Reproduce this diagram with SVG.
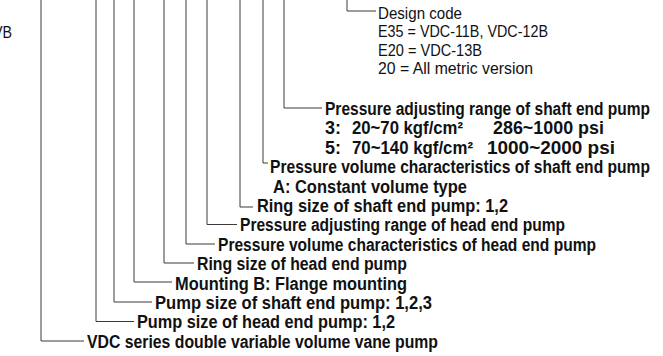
<svg xmlns="http://www.w3.org/2000/svg" width="663" height="356" viewBox="0 0 663 356">
<style>
.c{fill:none;stroke:#3a3a3a;stroke-width:1}
.l{font-family:"Liberation Sans",Arial,sans-serif;font-size:17px;fill:#111}
.b{font-family:"Liberation Sans",Arial,sans-serif;font-size:18px;font-weight:bold;fill:#111}
</style>
<rect width="663" height="356" fill="#fff"/>
<g id="connectors">
<path class="c" d="M347,0V11H376"/>
<path class="c" d="M284,0V108H322"/>
<path class="c" d="M263,0V163H268"/>
<path class="c" d="M240,0V207H253"/>
<path class="c" d="M207,0V224.5H237"/>
<path class="c" d="M186,0V244H215"/>
<path class="c" d="M164,0V263H194"/>
<path class="c" d="M134,0V282H172"/>
<path class="c" d="M114,0V302H152"/>
<path class="c" d="M96,0V321.5H134"/>
<path class="c" d="M41,0V341H84"/>
</g>
<g id="partial"><text class="l" x="-7" y="38" textLength="19" lengthAdjust="spacingAndGlyphs">VB</text></g>
<g id="design-code">
<text class="l" x="378" y="18.5" textLength="84" lengthAdjust="spacingAndGlyphs">Design code</text>
<text class="l" x="378" y="37" textLength="170" lengthAdjust="spacingAndGlyphs">E35 = VDC-11B, VDC-12B</text>
<text class="l" x="378" y="55.5" textLength="104" lengthAdjust="spacingAndGlyphs">E20 = VDC-13B</text>
<text class="l" x="378" y="74" textLength="155" lengthAdjust="spacingAndGlyphs">20 = All metric version</text>
</g>
<g id="pressure-shaft">
<text class="b" x="325" y="115" textLength="325" lengthAdjust="spacingAndGlyphs">Pressure adjusting range of shaft end pump</text>
<text class="b" x="325" y="134.4">3:</text>
<text class="b" x="352" y="134.4" textLength="111" lengthAdjust="spacingAndGlyphs">20~70 kgf/cm²</text>
<text class="b" x="493" y="134.4" textLength="111" lengthAdjust="spacingAndGlyphs">286~1000 psi</text>
<text class="b" x="325" y="153.8">5:</text>
<text class="b" x="352" y="153.8" textLength="121" lengthAdjust="spacingAndGlyphs">70~140 kgf/cm²</text>
<text class="b" x="487" y="153.8" textLength="128" lengthAdjust="spacingAndGlyphs">1000~2000 psi</text>
</g>
<g id="volume-shaft">
<text class="b" x="270" y="173.2" textLength="380" lengthAdjust="spacingAndGlyphs">Pressure volume characteristics of shaft end pump</text>
<text class="b" x="273" y="192.6" textLength="194" lengthAdjust="spacingAndGlyphs">A: Constant volume type</text>
</g>
<g id="ring-shaft"><text class="b" x="257" y="212" textLength="251" lengthAdjust="spacingAndGlyphs">Ring size of shaft end pump: 1,2</text></g>
<g id="pressure-head"><text class="b" x="240" y="231.4" textLength="325" lengthAdjust="spacingAndGlyphs">Pressure adjusting range of head end pump</text></g>
<g id="volume-head"><text class="b" x="218" y="250.8" textLength="378" lengthAdjust="spacingAndGlyphs">Pressure volume characteristics of head end pump</text></g>
<g id="ring-head"><text class="b" x="197" y="270.2" textLength="210" lengthAdjust="spacingAndGlyphs">Ring size of head end pump</text></g>
<g id="mounting"><text class="b" x="175" y="289.6" textLength="232" lengthAdjust="spacingAndGlyphs">Mounting B: Flange mounting</text></g>
<g id="pump-shaft"><text class="b" x="155" y="309" textLength="277" lengthAdjust="spacingAndGlyphs">Pump size of shaft end pump: 1,2,3</text></g>
<g id="pump-head"><text class="b" x="137" y="328.4" textLength="258" lengthAdjust="spacingAndGlyphs">Pump size of head end pump: 1,2</text></g>
<g id="series"><text class="b" x="87" y="347.8" textLength="351" lengthAdjust="spacingAndGlyphs">VDC series double variable volume vane pump</text></g>
</svg>
